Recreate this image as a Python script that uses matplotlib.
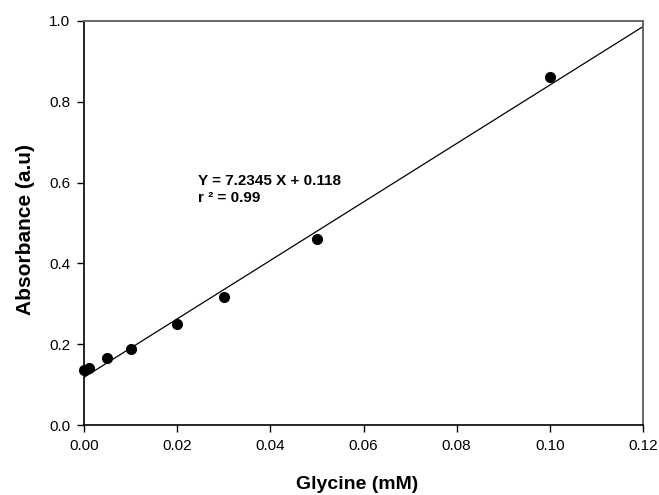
import matplotlib
matplotlib.use("Agg")
import matplotlib.pyplot as plt
import numpy as np

plt.rcParams['font.family'] = ['Liberation Sans', 'DejaVu Sans']

glycine = [0.0, 0.001, 0.005, 0.01, 0.02, 0.03, 0.05, 0.10]
absorbance = [0.135, 0.142, 0.167, 0.188, 0.249, 0.318, 0.461, 0.861]
slope = 7.2345
intercept = 0.118
xticks = [0.00, 0.02, 0.04, 0.06, 0.08, 0.10, 0.12]
yticks = [0.0, 0.2, 0.4, 0.6, 0.8, 1.0]

fig = plt.figure(figsize=(6.59, 4.95), dpi=100)
ax = fig.add_axes([0.1275, 0.1414, 0.8482, 0.8162])

xl = np.array([0.0, 0.12])
ax.plot(xl, slope * xl + intercept, color='black', lw=0.9)
ax.plot(glycine, absorbance, 'o', color='black', markersize=7, clip_on=False)

ax.set_xlim(0, 0.12)
ax.set_ylim(0, 1.0)
ax.set_xticks(xticks)
ax.set_xticklabels([f"{t:.2f}" for t in xticks])
ax.set_yticks(yticks)
ax.set_yticklabels([f"{t:.1f}" for t in yticks])
ax.tick_params(direction='out', length=5, width=1, labelsize=11, pad=5)
for s in ['left', 'bottom']:
    ax.spines[s].set_linewidth(1.2)
    ax.spines[s].set_color('black')
for s in ['top', 'right']:
    ax.spines[s].set_linewidth(1.4)
    ax.spines[s].set_color('#666666')

ax.set_xlabel('Glycine (mM)', fontsize=14, fontweight='bold')
ax.set_ylabel('Absorbance (a.u)', fontsize=15, fontweight='bold')
ax.xaxis.set_label_coords(0.489, -0.125)
ax.yaxis.set_label_coords(-0.088, 0.484)

ax.text(0.0244, 0.604, 'Y = 7.2345 X + 0.118', fontsize=11, fontweight='bold', va='center')
ax.text(0.0244, 0.562, 'r ² = 0.99', fontsize=11, fontweight='bold', va='center')

fig.savefig('out.png', dpi=100)
